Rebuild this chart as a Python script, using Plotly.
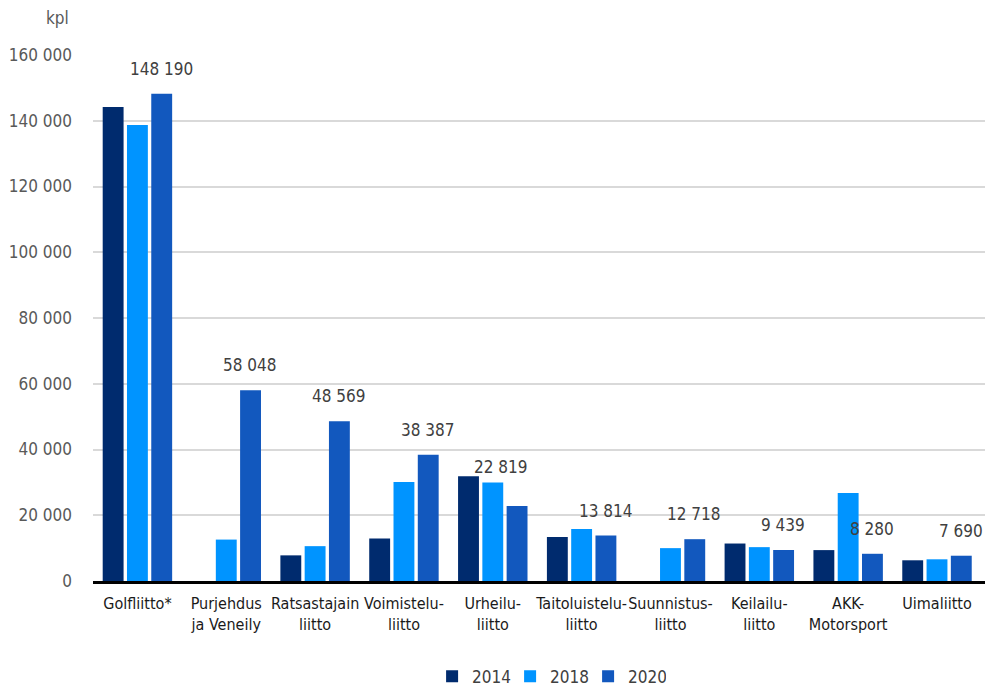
import plotly.graph_objects as go

categories = ["Golfliitto*", "Purjehdus<br>ja Veneily", "Ratsastajain<br>liitto", "Voimistelu-<br>liitto",
              "Urheilu-<br>liitto", "Taitoluistelu-<br>liitto", "Suunnistus-<br>liitto", "Keilailu-<br>liitto",
              "AKK-<br>Motorsport", "Uimaliitto"]
v2014 = [144200, None, 7800, 12900, 31900, 13400, None, 11400, 9400, 6300]
v2018 = [138700, 12600, 10600, 30100, 30000, 15800, 10000, 10300, 26800, 6600]
v2020 = [148190, 58048, 48569, 38387, 22819, 13814, 12718, 9439, 8280, 7690]
years = ["2014", "2018", "2020"]
colors = ["#002B6E", "#0094FF", "#1258BE"]
y_ticks = [0, 20000, 40000, 60000, 80000, 100000, 120000, 140000, 160000]

FONT = "DejaVu Sans Condensed, Roboto, sans-serif"
FS = 16

# label placement tweaks (style only)
label_offsets = {4: (-16, 27)}

fig = go.Figure()
for name, vals, col in zip(years, [v2014, v2018, v2020], colors):
    fig.add_trace(go.Bar(x=categories, y=vals, name=name, marker=dict(color=col, line=dict(width=0))))

annotations = []
for i, (c, v) in enumerate(zip(categories, v2020)):
    xs, ys = label_offsets.get(i, (0, 13))
    annotations.append(dict(x=c, y=v, xref="x", yref="y", text=f"{v:,}".replace(",", " "),
                            showarrow=False, xshift=24 + xs, yshift=ys, yanchor="bottom",
                            font=dict(family=FONT, size=FS + 1, color="#404040")))
annotations.append(dict(x=-0.025, y=1.07, xref="paper", yref="paper", text="kpl", showarrow=False,
                        xanchor="right", yanchor="middle", font=dict(family=FONT, size=FS + 1, color="#595959")))

fig.update_layout(
    width=1002, height=689,
    margin=dict(l=93, r=17, t=55, b=108),
    paper_bgcolor="white", plot_bgcolor="white",
    barmode="group", bargap=0.18, bargroupgap=0.14,
    separators=". ",
    font=dict(family=FONT, size=FS, color="#404040"),
    showlegend=True,
    legend=dict(orientation="h", xref="container", yref="container", x=0.548, xanchor="center",
                y=0.018, yanchor="middle", entrywidth=33,
                font=dict(family=FONT, size=FS + 1, color="#404040")),
    annotations=annotations,
    xaxis=dict(showline=True, linecolor="black", linewidth=3, ticks="", tickangle=0, automargin=False,
               tickfont=dict(family=FONT, size=FS, color="#1a1a1a"), ticklabelstandoff=6),
    yaxis=dict(range=[0, 160000], tickvals=y_ticks, tickformat=",", showgrid=True, gridcolor="#D9D9D9", gridwidth=2,
               zeroline=False, showline=False, ticklabelstandoff=20, automargin=False,
               tickfont=dict(family=FONT, size=FS + 1, color="#595959")),
)

fig.write_html("out.html")
